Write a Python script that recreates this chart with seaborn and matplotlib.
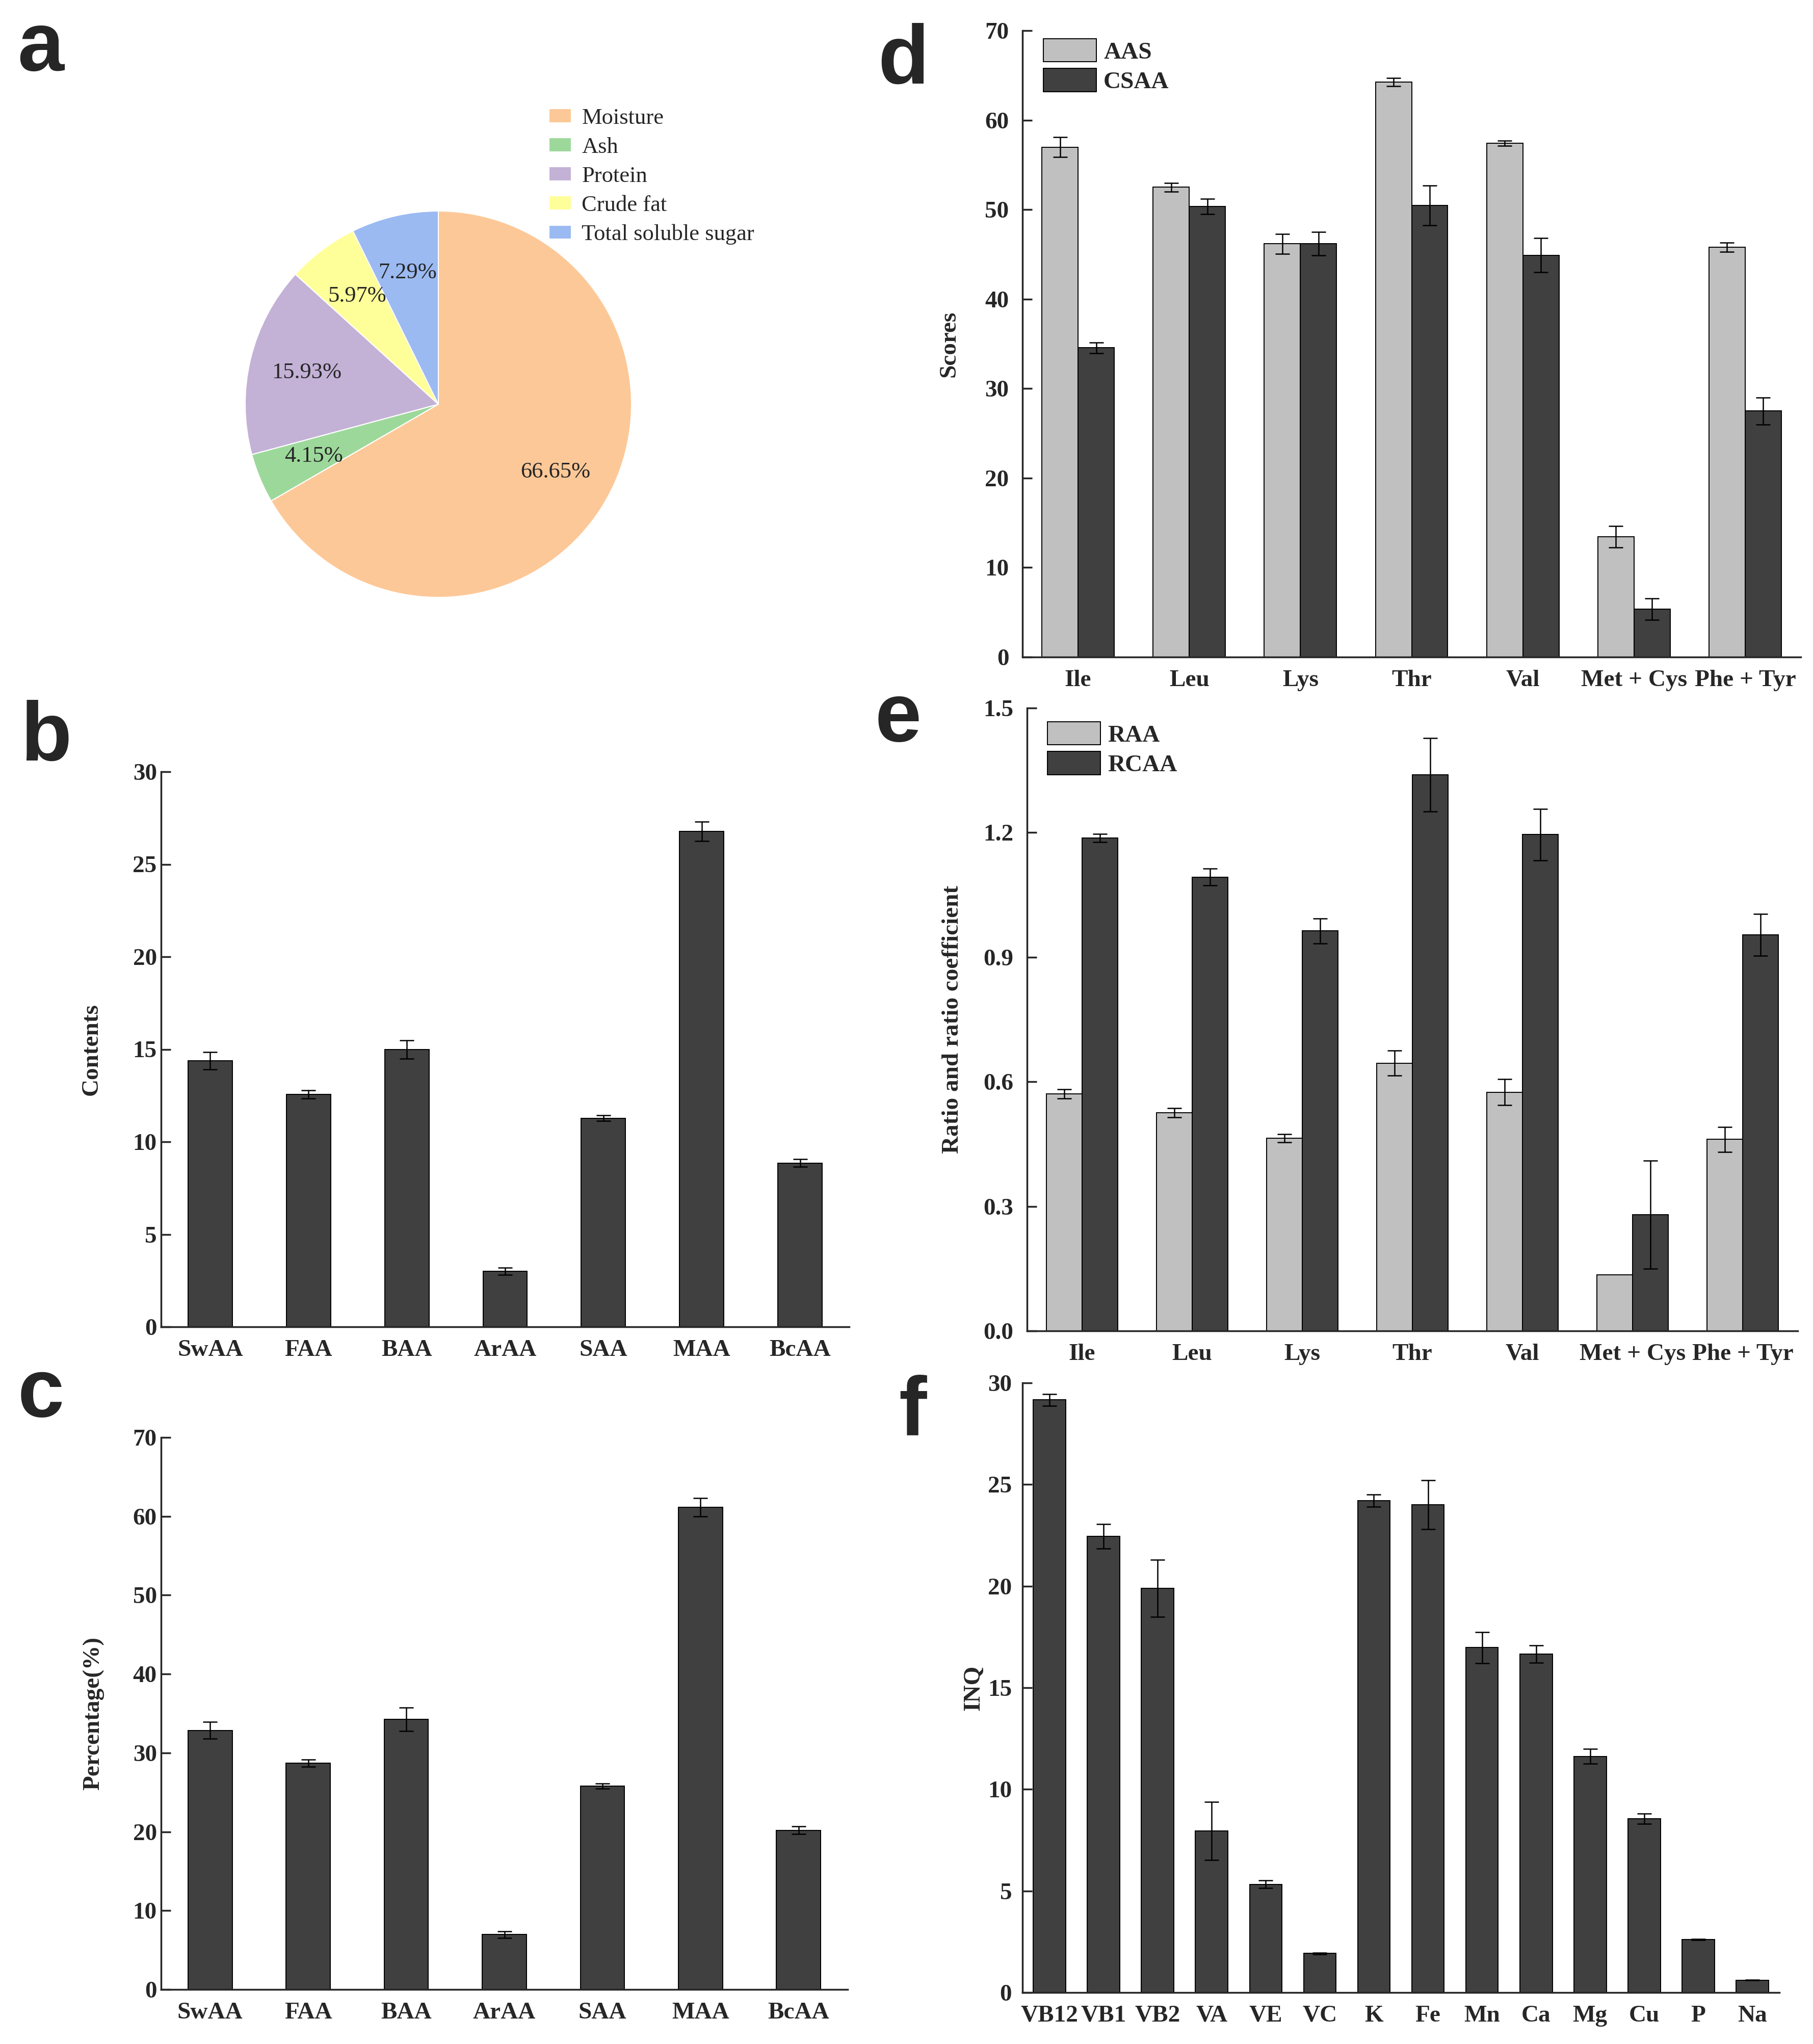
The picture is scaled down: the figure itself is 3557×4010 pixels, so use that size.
import matplotlib
matplotlib.use("Agg")
import matplotlib.pyplot as plt
import numpy as np
import pandas as pd
import seaborn as sns
from matplotlib.ticker import MultipleLocator, FormatStrFormatter

# a - proximate composition (%)
comp_names = ["Moisture", "Ash", "Protein", "Crude fat", "Total soluble sugar"]
comp_values = [66.65, 4.15, 15.93, 5.97, 7.29]
comp_colors = ["#FDC897", "#9DD89B", "#C3B1D6", "#FFFF99", "#9BBAF2"]

# b / c - amino acid groups
aa_groups = ["SwAA", "FAA", "BAA", "ArAA", "SAA", "MAA", "BcAA"]
contents = [14.38, 12.55, 14.98, 3.01, 11.27, 26.78, 8.85]
contents_err = [0.48, 0.22, 0.50, 0.19, 0.15, 0.52, 0.20]
percent = [32.85, 28.70, 34.25, 6.95, 25.80, 61.15, 20.18]
percent_err = [1.08, 0.43, 1.50, 0.43, 0.32, 1.19, 0.49]

# d / e - essential amino acids
eaa = ["Ile", "Leu", "Lys", "Thr", "Val", "Met + Cys", "Phe + Tyr"]
aas = [56.97, 52.49, 46.18, 64.27, 57.42, 13.45, 45.79]
aas_err = [1.1, 0.5, 1.1, 0.45, 0.3, 1.2, 0.5]
csaa = [34.55, 50.37, 46.18, 50.47, 44.90, 5.37, 27.50]
csaa_err = [0.6, 0.85, 1.3, 2.2, 1.9, 1.2, 1.5]
raa = [0.571, 0.525, 0.464, 0.645, 0.575, 0.135, 0.461]
raa_err = [0.011, 0.011, 0.010, 0.030, 0.031, 0.0, 0.030]
rcaa = [1.187, 1.093, 0.963, 1.339, 1.195, 0.280, 0.954]
rcaa_err = [0.010, 0.020, 0.030, 0.088, 0.062, 0.130, 0.050]

# f - INQ
nutrients = ["VB12", "VB1", "VB2", "VA", "VE", "VC", "K", "Fe", "Mn", "Ca", "Mg", "Cu", "P", "Na"]
inq = [29.16, 22.46, 19.89, 7.94, 5.33, 1.92, 24.21, 24.00, 16.97, 16.65, 11.62, 8.55, 2.61, 0.61]
inq_err = [0.30, 0.60, 1.40, 1.43, 0.19, 0.03, 0.30, 1.20, 0.76, 0.42, 0.36, 0.25, 0.03, 0.02]

LIGHT = "#C0C0C0"
DARK = "#404040"
FS = 34

sns.set_style("ticks")
plt.rcParams["font.family"] = ["Liberation Serif", "DejaVu Serif"]
plt.rcParams["font.weight"] = "bold"

W, H = 3557, 4010
fig = plt.figure(figsize=(W / 100, H / 100), dpi=100)


def add_ax(l, t, r, b):
    return fig.add_axes([l / W, 1 - b / H, (r - l) / W, (b - t) / H])


def style(ax, n, ymax, step, ylabel, label_off, ypad, width_px, fmt=None):
    ax.set_xlim(-0.5, n - 0.5)
    ax.set_ylim(0, ymax)
    ax.yaxis.set_major_locator(MultipleLocator(step))
    if fmt:
        ax.yaxis.set_major_formatter(FormatStrFormatter(fmt))
    sns.despine(ax=ax)
    for s in ["left", "bottom"]:
        ax.spines[s].set_linewidth(2.5)
    ax.tick_params(axis="both", direction="in", length=14, width=2.5, labelsize=FS)
    ax.tick_params(axis="y", pad=ypad)
    ax.tick_params(axis="x", pad=18)
    ax.set_xlabel("")
    ax.set_ylabel(ylabel, fontsize=FS, fontweight="bold")
    ax.yaxis.set_label_coords(-label_off / width_px, 0.5)


def add_err(ax, cont, vals, errs):
    xs = [p.get_x() + p.get_width() / 2 for p in cont]
    e = [np.nan if v == 0 else v for v in errs]
    ax.errorbar(xs, vals, yerr=e, fmt="none", ecolor="black",
                elinewidth=1.8, capsize=10, capthick=1.8, zorder=3)


def single_bars(ax, cats, vals, errs, width):
    df = pd.DataFrame({"cat": cats, "val": vals})
    sns.barplot(data=df, x="cat", y="val", color=DARK, saturation=1, width=width,
                edgecolor="black", linewidth=1.4, errorbar=None, ax=ax)
    add_err(ax, ax.containers[0], vals, errs)


def grouped_bars(ax, cats, s1, e1, s2, e2, names, legend_xy):
    n = len(cats)
    df = pd.DataFrame({"cat": cats * 2, "val": s1 + s2,
                       "series": [names[0]] * n + [names[1]] * n})
    sns.barplot(data=df, x="cat", y="val", hue="series", palette=[LIGHT, DARK],
                saturation=1, width=0.65, edgecolor="black", linewidth=1.4,
                errorbar=None, legend=False, ax=ax)
    for cont, v, e in zip(ax.containers, [s1, s2], [e1, e2]):
        add_err(ax, cont, v, e)
    ax.legend(handles=list(ax.containers), labels=names, loc="upper left",
              bbox_to_anchor=(legend_xy[0] / W, 1 - legend_xy[1] / H),
              bbox_transform=fig.transFigure, frameon=False,
              prop={"size": FS, "weight": "bold"}, handlelength=2.2,
              handleheight=1.1, handletextpad=0.3, labelspacing=0.2,
              borderpad=0, borderaxespad=0)


# a: pie
axa = add_ax(481, 414, 1239, 1172)
wedges, texts = axa.pie(comp_values, colors=comp_colors, startangle=90, counterclock=False,
                        labels=[f"{v:.2f}%" for v in comp_values], labeldistance=0.7,
                        wedgeprops=dict(edgecolor="white", linewidth=1.5),
                        textprops=dict(fontsize=32, fontweight="normal"))
for t in texts:
    t.set_ha("center")
    t.set_va("center")
axa.set_xlim(-1, 1)
axa.set_ylim(-1, 1)
axa.legend(wedges, comp_names, loc="upper left",
           bbox_to_anchor=(1077 / W, 1 - 212 / H), bbox_transform=fig.transFigure,
           frameon=False, prop={"size": 32, "weight": "normal"}, handlelength=1.0,
           handleheight=0.58, handletextpad=0.45, labelspacing=0.38,
           borderpad=0, borderaxespad=0)

# b
axb = add_ax(316, 1514, 1666, 2603)
single_bars(axb, aa_groups, contents, contents_err, 0.45)
style(axb, len(aa_groups), 30, 5, "Contents", 115, 6, 1350)

# c
axc = add_ax(316, 2820, 1663, 3903)
single_bars(axc, aa_groups, percent, percent_err, 0.45)
style(axc, len(aa_groups), 70, 10, "Percentage(%)", 112, 6, 1347)

# d
axd = add_ax(2006, 60, 3533, 1289)
grouped_bars(axd, eaa, aas, aas_err, csaa, csaa_err, ["AAS", "CSAA"], (2047, 76))
style(axd, len(eaa), 70, 10, "Scores", 123, 19, 1527)

# e
axe = add_ax(2015, 1389, 3527, 2611)
grouped_bars(axe, eaa, raa, raa_err, rcaa, rcaa_err, ["RAA", "RCAA"], (2055, 1416))
style(axe, len(eaa), 1.5, 0.3, "Ratio and ratio coefficient", 125, 19, 1512, fmt="%.1f")

# f
axf = add_ax(2006, 2713, 3491, 3909)
single_bars(axf, nutrients, inq, inq_err, 0.6)
style(axf, len(nutrients), 30, 5, "INQ", 75, 15, 1485)

# panel letters
for letter, x, y in [("a", 34, 138), ("b", 40, 1492), ("c", 35, 2779),
                     ("d", 1722, 164), ("e", 1717, 1454), ("f", 1763, 2815)]:
    fig.text(x / W, 1 - y / H, letter, fontsize=118, fontweight="bold",
             family=["Liberation Sans", "DejaVu Sans"], ha="left", va="baseline")

fig.savefig("out.png", dpi=100)
